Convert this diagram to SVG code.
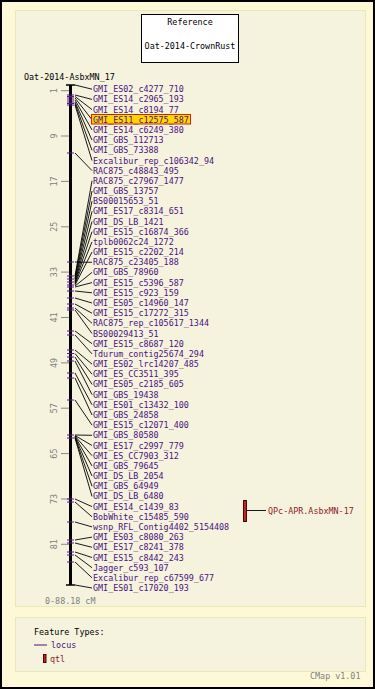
<svg xmlns="http://www.w3.org/2000/svg" width="375" height="689" viewBox="0 0 375 689">
<style>
text{font-family:"DejaVu Sans Mono","Liberation Mono",monospace;font-size:8.4px}
.lab{fill:#4a1280}
.blk{fill:#000}
.gry{fill:#808080}
.qt{fill:#8e1a2a}
.mk{stroke:#5a1a90;stroke-width:1}
.cn{stroke:#000;stroke-width:0.9;fill:none}
.tk{stroke:#888;stroke-width:1}
</style>
<rect x="1" y="1" width="373" height="687" fill="#fdf9d6" stroke="#000" stroke-width="2"/>
<rect x="15.5" y="10.5" width="350" height="596" fill="#f5f3de" stroke="#ebe7b6" stroke-width="1"/>
<rect x="15.5" y="617.5" width="350" height="54" fill="#f5f3de" stroke="#ebe7b6" stroke-width="1"/>
<g id="reference">
<rect x="141.5" y="14.5" width="97" height="48" fill="#fff" stroke="#000"/>
<text class="blk" x="190" y="25" text-anchor="middle">Reference</text>
<text class="blk" x="190" y="49" text-anchor="middle">Oat-2014-CrownRust</text>
</g>
<g id="map">
<text class="blk" x="24" y="80">Oat-2014-AsbxMN_17</text>
<line x1="70.5" y1="85" x2="70.5" y2="585" stroke="#000" stroke-width="3"/>
<line x1="66" y1="85" x2="75" y2="85" stroke="#000" stroke-width="1.5"/>
<line x1="66" y1="585" x2="75" y2="585" stroke="#000" stroke-width="1.5"/>
</g>
<g id="scale">
<g class="tk">
<line x1="61" y1="90.7" x2="69" y2="90.7"/><line x1="61" y1="136" x2="69" y2="136"/><line x1="61" y1="181.4" x2="69" y2="181.4"/><line x1="61" y1="226.8" x2="69" y2="226.8"/><line x1="61" y1="272.1" x2="69" y2="272.1"/><line x1="61" y1="317.5" x2="69" y2="317.5"/><line x1="61" y1="362.9" x2="69" y2="362.9"/><line x1="61" y1="408.2" x2="69" y2="408.2"/><line x1="61" y1="453.6" x2="69" y2="453.6"/><line x1="61" y1="499" x2="69" y2="499"/><line x1="61" y1="544.3" x2="69" y2="544.3"/>
</g>
<text class="gry" transform="translate(57,90.7) rotate(-90)" text-anchor="middle">1</text>
<text class="gry" transform="translate(57,136) rotate(-90)" text-anchor="middle">9</text>
<text class="gry" transform="translate(57,181.4) rotate(-90)" text-anchor="middle">17</text>
<text class="gry" transform="translate(57,226.8) rotate(-90)" text-anchor="middle">25</text>
<text class="gry" transform="translate(57,272.1) rotate(-90)" text-anchor="middle">33</text>
<text class="gry" transform="translate(57,317.5) rotate(-90)" text-anchor="middle">41</text>
<text class="gry" transform="translate(57,362.9) rotate(-90)" text-anchor="middle">49</text>
<text class="gry" transform="translate(57,408.2) rotate(-90)" text-anchor="middle">57</text>
<text class="gry" transform="translate(57,453.6) rotate(-90)" text-anchor="middle">65</text>
<text class="gry" transform="translate(57,499) rotate(-90)" text-anchor="middle">73</text>
<text class="gry" transform="translate(57,544.3) rotate(-90)" text-anchor="middle">81</text>
<text class="gry" x="45" y="604">0-88.18 cM</text>
</g>
<g id="markers" class="mk">
<line x1="67" y1="95" x2="74" y2="95"/><line x1="67" y1="96.5" x2="74" y2="96.5"/><line x1="67" y1="98" x2="74" y2="98"/><line x1="67" y1="100" x2="74" y2="100"/><line x1="67" y1="102" x2="74" y2="102"/><line x1="67" y1="103.5" x2="74" y2="103.5"/><line x1="67" y1="105" x2="74" y2="105"/><line x1="67" y1="153" x2="74" y2="153"/>
<line x1="67" y1="262" x2="74" y2="262"/><line x1="67" y1="276" x2="74" y2="276"/><line x1="67" y1="279" x2="74" y2="279"/><line x1="67" y1="282" x2="74" y2="282"/><line x1="67" y1="285" x2="74" y2="285"/><line x1="67" y1="287" x2="74" y2="287"/><line x1="67" y1="291" x2="74" y2="291"/><line x1="67" y1="298" x2="74" y2="298"/><line x1="67" y1="304" x2="74" y2="304"/><line x1="67" y1="308" x2="74" y2="308"/><line x1="67" y1="310" x2="74" y2="310"/><line x1="67" y1="331" x2="74" y2="331"/><line x1="67" y1="335" x2="74" y2="335"/>
<line x1="67" y1="350" x2="74" y2="350"/><line x1="67" y1="353.5" x2="74" y2="353.5"/><line x1="67" y1="357" x2="74" y2="357"/><line x1="67" y1="361" x2="74" y2="361"/><line x1="67" y1="373" x2="74" y2="373"/><line x1="67" y1="378" x2="74" y2="378"/><line x1="67" y1="400" x2="74" y2="400"/>
<line x1="67" y1="435" x2="74" y2="435"/><line x1="67" y1="438" x2="74" y2="438"/><line x1="67" y1="499" x2="74" y2="499"/><line x1="67" y1="502" x2="74" y2="502"/><line x1="67" y1="522" x2="74" y2="522"/><line x1="67" y1="540" x2="74" y2="540"/><line x1="67" y1="543" x2="74" y2="543"/><line x1="67" y1="552" x2="74" y2="552"/><line x1="67" y1="555" x2="74" y2="555"/><line x1="67" y1="562" x2="74" y2="562"/>
</g>
<g id="connectors" class="cn">
<line x1="75" y1="85" x2="92" y2="89.2"/>
<line x1="75" y1="95" x2="92" y2="99.4"/>
<line x1="75" y1="96.5" x2="92" y2="109.6"/>
<line x1="75" y1="98" x2="92" y2="119.7"/>
<line x1="75" y1="100" x2="92" y2="129.9"/>
<line x1="75" y1="102" x2="92" y2="140.1"/>
<line x1="75" y1="103.5" x2="92" y2="150.3"/>
<line x1="75" y1="105" x2="92" y2="160.5"/>
<line x1="75" y1="153" x2="92" y2="170.6"/>
<line x1="75" y1="276" x2="92" y2="180.8"/>
<line x1="75" y1="277.5" x2="92" y2="191"/>
<line x1="75" y1="279" x2="92" y2="201.2"/>
<line x1="75" y1="280.5" x2="92" y2="211.4"/>
<line x1="75" y1="282" x2="92" y2="221.5"/>
<line x1="75" y1="283" x2="92" y2="231.7"/>
<line x1="75" y1="284" x2="92" y2="241.9"/>
<line x1="75" y1="285" x2="92" y2="252.1"/>
<line x1="75" y1="262" x2="92" y2="262.3"/>
<line x1="75" y1="286" x2="92" y2="272.4"/>
<line x1="75" y1="287" x2="92" y2="282.6"/>
<line x1="75" y1="291" x2="92" y2="292.8"/>
<line x1="75" y1="298" x2="92" y2="303"/>
<line x1="75" y1="304" x2="92" y2="313.2"/>
<line x1="75" y1="308" x2="92" y2="323.3"/>
<line x1="75" y1="310" x2="92" y2="333.5"/>
<line x1="75" y1="331" x2="92" y2="343.7"/>
<line x1="75" y1="335" x2="92" y2="353.9"/>
<line x1="75" y1="350" x2="92" y2="364.1"/>
<line x1="75" y1="353.5" x2="92" y2="374.2"/>
<line x1="75" y1="357" x2="92" y2="384.4"/>
<line x1="75" y1="361" x2="92" y2="394.6"/>
<line x1="75" y1="373" x2="92" y2="404.8"/>
<line x1="75" y1="378" x2="92" y2="415"/>
<line x1="75" y1="400" x2="92" y2="425.1"/>
<line x1="75" y1="435" x2="92" y2="435.3"/>
<line x1="75" y1="435.5" x2="92" y2="445.5"/>
<line x1="75" y1="436" x2="92" y2="455.7"/>
<line x1="75" y1="436.5" x2="92" y2="465.9"/>
<line x1="75" y1="437" x2="92" y2="476"/>
<line x1="75" y1="437.5" x2="92" y2="486.2"/>
<line x1="75" y1="438" x2="92" y2="496.4"/>
<line x1="75" y1="499" x2="92" y2="506.6"/>
<line x1="75" y1="502" x2="92" y2="516.8"/>
<line x1="75" y1="522" x2="92" y2="526.9"/>
<line x1="75" y1="540" x2="92" y2="537.1"/>
<line x1="75" y1="543" x2="92" y2="547.3"/>
<line x1="75" y1="552" x2="92" y2="557.5"/>
<line x1="75" y1="555" x2="92" y2="567.7"/>
<line x1="75" y1="562" x2="92" y2="577.8"/>
<line x1="75" y1="585" x2="92" y2="588"/>
<line x1="247" y1="510.5" x2="266" y2="510.5"/>
</g>
<g id="labels" class="lab">
<rect x="91.5" y="114.5" width="99" height="9.5" fill="#ffd700" stroke="#e02000" stroke-width="1"/>
<text x="93" y="92.2">GMI_ES02_c4277_710</text>
<text x="93" y="102.4">GMI_ES14_c2965_193</text>
<text x="93" y="112.6">GMI_ES14_c8194_77</text>
<text x="93" y="122.7">GMI_ES11_c12575_587</text>
<text x="93" y="132.9">GMI_ES14_c6249_380</text>
<text x="93" y="143.1">GMI_GBS_112713</text>
<text x="93" y="153.3">GMI_GBS_73388</text>
<text x="93" y="163.5">Excalibur_rep_c106342_94</text>
<text x="93" y="173.6">RAC875_c48843_495</text>
<text x="93" y="183.8">RAC875_c27967_1477</text>
<text x="93" y="194">GMI_GBS_13757</text>
<text x="93" y="204.2">BS00015653_51</text>
<text x="93" y="214.4">GMI_ES17_c8314_651</text>
<text x="93" y="224.5">GMI_DS_LB_1421</text>
<text x="93" y="234.7">GMI_ES15_c16874_366</text>
<text x="93" y="244.9">tplb0062c24_1272</text>
<text x="93" y="255.1">GMI_ES15_c2202_214</text>
<text x="93" y="265.3">RAC875_c23405_188</text>
<text x="93" y="275.4">GMI_GBS_78960</text>
<text x="93" y="285.6">GMI_ES15_c5396_587</text>
<text x="93" y="295.8">GMI_ES15_c923_159</text>
<text x="93" y="306">GMI_ES05_c14960_147</text>
<text x="93" y="316.2">GMI_ES15_c17272_315</text>
<text x="93" y="326.3">RAC875_rep_c105617_1344</text>
<text x="93" y="336.5">BS00029413_51</text>
<text x="93" y="346.7">GMI_ES15_c8687_120</text>
<text x="93" y="356.9">Tdurum_contig25674_294</text>
<text x="93" y="367.1">GMI_ES02_lrc14207_485</text>
<text x="93" y="377.2">GMI_ES_CC3511_395</text>
<text x="93" y="387.4">GMI_ES05_c2185_605</text>
<text x="93" y="397.6">GMI_GBS_19438</text>
<text x="93" y="407.8">GMI_ES01_c13432_100</text>
<text x="93" y="418">GMI_GBS_24858</text>
<text x="93" y="428.1">GMI_ES15_c12071_400</text>
<text x="93" y="438.3">GMI_GBS_80580</text>
<text x="93" y="448.5">GMI_ES17_c2997_779</text>
<text x="93" y="458.7">GMI_ES_CC7903_312</text>
<text x="93" y="468.9">GMI_GBS_79645</text>
<text x="93" y="479">GMI_DS_LB_2054</text>
<text x="93" y="489.2">GMI_GBS_64949</text>
<text x="93" y="499.4">GMI_DS_LB_6480</text>
<text x="93" y="509.6">GMI_ES14_c1439_83</text>
<text x="93" y="519.8">BobWhite_c15485_590</text>
<text x="93" y="529.9">wsnp_RFL_Contig4402_5154408</text>
<text x="93" y="540.1">GMI_ES03_c8080_263</text>
<text x="93" y="550.3">GMI_ES17_c8241_378</text>
<text x="93" y="560.5">GMI_ES15_c8442_243</text>
<text x="93" y="570.7">Jagger_c593_107</text>
<text x="93" y="580.8">Excalibur_rep_c67599_677</text>
<text x="93" y="591">GMI_ES01_c17020_193</text>
</g>
<g id="qtl">
<rect x="243.5" y="500.5" width="3" height="21" fill="#b02a2a" stroke="#5a0000" stroke-width="1"/>
<text class="qt" x="268" y="513.5">QPc-APR.AsbxMN-17</text>
</g>
<g id="legend">
<text class="blk" x="34" y="635">Feature Types:</text>
<line x1="34" y1="645" x2="47" y2="645" stroke="#4a1280" stroke-width="1"/>
<text class="lab" x="51" y="648">locus</text>
<rect x="43.5" y="654.5" width="2.5" height="8" fill="#b02a2a" stroke="#5a0000" stroke-width="1"/>
<text class="qt" x="50" y="662">qtl</text>
</g>
<text class="gry" x="310" y="679">CMap v1.01</text>
</svg>
